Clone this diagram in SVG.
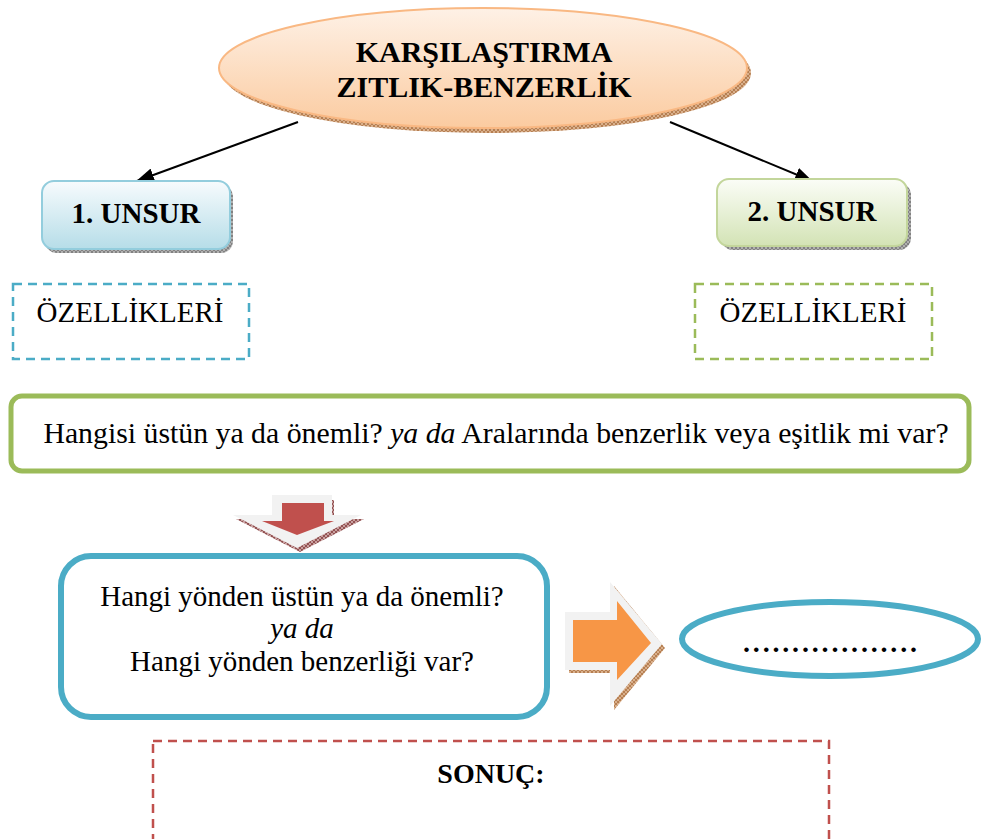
<svg xmlns="http://www.w3.org/2000/svg" width="982" height="839" viewBox="0 0 982 839">
  <style>
    .t { fill: #000; }
    .title { font-size: 30px; font-weight: bold; text-anchor: middle; }
    .unsur { font-size: 29px; font-weight: bold; text-anchor: middle; }
    .sonuc { font-size: 28px; font-weight: bold; text-anchor: middle; }
    .body { font-size: 29px; text-anchor: middle; }
    .wide { font-size: 29.8px; text-anchor: middle; }
    .feat { font-size: 29px; text-anchor: middle; }
    .conn { stroke: #000; stroke-width: 2; fill: none; }
  </style>
  <defs>
    <marker id="arrow" viewBox="0 0 18 14" refX="17" refY="7" markerWidth="18" markerHeight="14" markerUnits="userSpaceOnUse" orient="auto">
      <path d="M0,0 L18,7 L0,14 z" fill="#000"/>
    </marker>
    <linearGradient id="gOrange" x1="0" y1="0" x2="0" y2="1">
      <stop offset="0" stop-color="#fef1e6"/>
      <stop offset="1" stop-color="#fbcba0"/>
    </linearGradient>
    <linearGradient id="gBlue" x1="0" y1="0" x2="0" y2="1">
      <stop offset="0" stop-color="#f7fbfd"/>
      <stop offset="1" stop-color="#b6dde8"/>
    </linearGradient>
    <linearGradient id="gGreen" x1="0" y1="0" x2="0" y2="1">
      <stop offset="0" stop-color="#fbfdf7"/>
      <stop offset="1" stop-color="#d3e3b5"/>
    </linearGradient>
    <pattern id="hatchBrown" width="4" height="4" patternUnits="userSpaceOnUse">
      <rect width="4" height="4" fill="#d9b08c"/>
      <path d="M0,0 L4,4 M4,0 L0,4" stroke="#a66a3a" stroke-width="0.7"/>
    </pattern>
    <pattern id="hatchGrey" width="4" height="4" patternUnits="userSpaceOnUse">
      <rect width="4" height="4" fill="#b0b0b0"/>
      <path d="M0,0 L4,4 M4,0 L0,4" stroke="#6f6f6f" stroke-width="0.7"/>
    </pattern>
    <pattern id="hatchRed" width="4" height="4" patternUnits="userSpaceOnUse">
      <rect width="4" height="4" fill="#c9a0a0"/>
      <path d="M0,0 L4,4 M4,0 L0,4" stroke="#7a3030" stroke-width="0.7"/>
    </pattern>
  </defs>

  <g font-family="'Liberation Serif', 'DejaVu Serif', serif">

  <!-- connectors from the title to the two items -->
  <g id="connectors">
    <line class="conn" x1="298" y1="122" x2="137" y2="181" marker-end="url(#arrow)"/>
    <line class="conn" x1="670" y1="122" x2="812" y2="181" marker-end="url(#arrow)"/>
  </g>

  <!-- title ellipse -->
  <g id="title">
    <ellipse cx="487" cy="73" rx="264" ry="60" fill="url(#hatchBrown)"/>
    <ellipse cx="483" cy="68" rx="264" ry="60" fill="url(#gOrange)" stroke="#f9b883" stroke-width="2"/>
    <text class="t title" x="484" y="62">KARŞILAŞTIRMA</text>
    <text class="t title" x="484" y="97">ZITLIK-BENZERLİK</text>
  </g>

  <!-- first item -->
  <g id="unsur1">
    <rect x="45" y="185" width="188" height="68" rx="12" fill="url(#hatchGrey)"/>
    <rect x="42" y="181" width="188" height="68" rx="12" fill="url(#gBlue)" stroke="#93cddd" stroke-width="2"/>
    <text class="t unsur" x="136" y="223">1. UNSUR</text>
  </g>

  <!-- second item -->
  <g id="unsur2">
    <rect x="721" y="183" width="190" height="67" rx="12" fill="url(#hatchGrey)"/>
    <rect x="717" y="179" width="190" height="67" rx="12" fill="url(#gGreen)" stroke="#c3d69b" stroke-width="2"/>
    <text class="t unsur" x="812" y="221">2. UNSUR</text>
  </g>

  <!-- features boxes -->
  <g id="ozellik1">
    <rect x="13" y="284" width="236" height="75" fill="#fff" stroke="#4bacc6" stroke-width="2.5" stroke-dasharray="9,6"/>
    <text class="t feat" x="130" y="322">ÖZELLİKLERİ</text>
  </g>
  <g id="ozellik2">
    <rect x="695" y="284" width="237" height="75" fill="#fff" stroke="#9bbb59" stroke-width="2.5" stroke-dasharray="9,6"/>
    <text class="t feat" x="813" y="322">ÖZELLİKLERİ</text>
  </g>

  <!-- question box -->
  <g id="soru">
    <rect x="11" y="396" width="958" height="75" rx="11" fill="#fff" stroke="#9bbb59" stroke-width="5"/>
    <text class="t wide" x="496" y="443">Hangisi üstün ya da önemli? <tspan font-style="italic">ya da</tspan> Aralarında benzerlik veya eşitlik mi var?</text>
  </g>

  <!-- downward arrow -->
  <g id="asagiOk">
    <path d="M274,500 L334,500 L334,519 L364,519 L300,552 L236,519 L274,519 z" fill="url(#hatchRed)"/>
    <path d="M272,495 L332,495 L332,515 L361,515 L297,548 L233,515 L272,515 z" fill="#f2f2f2"/>
    <path d="M282,503 L324,503 L324,521 L334,521 L297,535 L262,521 L282,521 z" fill="#c0504d"/>
  </g>

  <!-- how box -->
  <g id="nasil">
    <rect x="61" y="556" width="486" height="161" rx="30" fill="#fff" stroke="#4bacc6" stroke-width="6"/>
    <text class="t body" x="302" y="606">Hangi yönden üstün ya da önemli?</text>
    <text class="t body" x="302" y="638" font-style="italic">ya da</text>
    <text class="t body" x="302" y="671">Hangi yönden benzerliği var?</text>
  </g>

  <!-- right arrow -->
  <g id="sagOk">
    <path d="M569,615 L614,615 L614,586 L665,648 L614,710 L614,673 L569,673 z" fill="url(#hatchBrown)"/>
    <path d="M565,612 L610,612 L610,582 L662,644 L610,706 L610,670 L565,670 z" fill="#f2f2f2"/>
    <path d="M573,620 L617,620 L617,601 L651,643 L617,680 L617,662 L573,662 z" fill="#f79646"/>
  </g>

  <!-- answer ellipse -->
  <g id="cevap">
    <ellipse cx="830" cy="639" rx="148" ry="37" fill="#fff" stroke="#4bacc6" stroke-width="6"/>
    <text class="t" x="743" y="652" font-size="28" font-weight="bold" textLength="174" lengthAdjust="spacing">..................</text>
  </g>

  <!-- conclusion box -->
  <g id="sonuc">
    <rect x="153" y="741" width="676" height="110" fill="#fff" stroke="#c0504d" stroke-width="2.5" stroke-dasharray="9,6"/>
    <text class="t sonuc" x="491" y="783">SONUÇ:</text>
  </g>

  </g>
</svg>
